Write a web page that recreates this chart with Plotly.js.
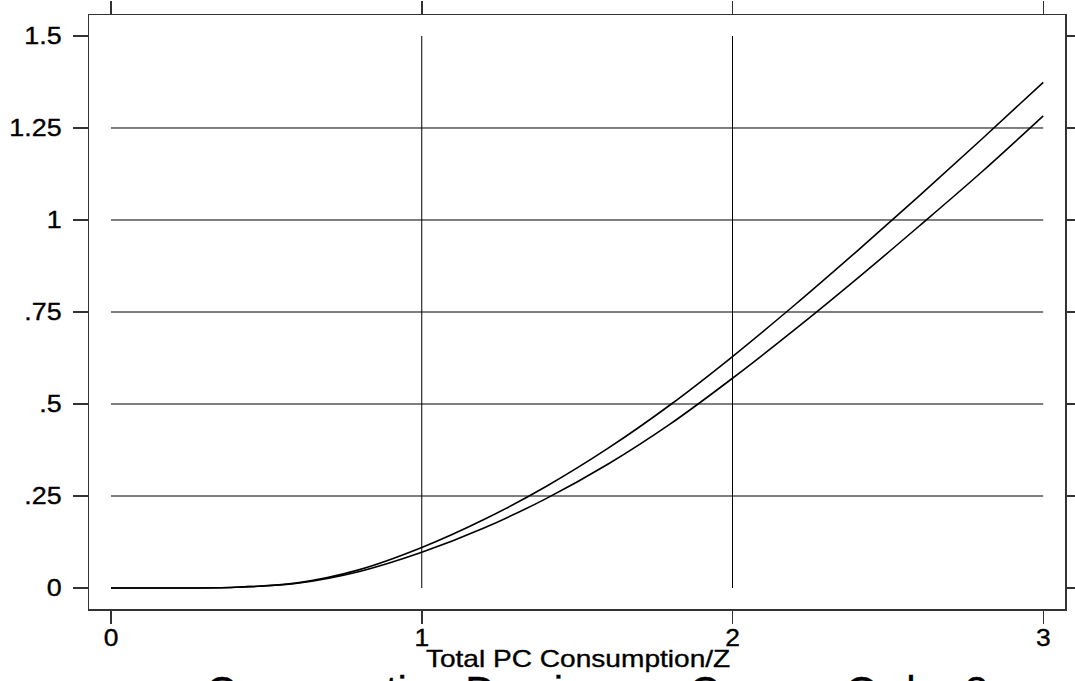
<!DOCTYPE html>
<html>
<head>
<meta charset="utf-8">
<script src="https://cdn.plot.ly/plotly-3.0.1.min.js"></script>
<style>
html,body{margin:0;padding:0;background:#fff;}
#chart{width:1075px;height:681px;}
#chart .xtick text, #chart .ytick text, #chart .annotation-text{stroke:#000;stroke-width:0.35px;}
</style>
</head>
<body>
<div id="chart"></div>
<script>
// ---- data ----
var xVals = [0, 0.2, 0.4, 0.6, 0.8, 1.0, 1.2, 1.4, 1.6, 1.8, 2.0, 2.2, 2.4, 2.6, 2.8, 3.0];
var curveUpper = [0, 0, 0.002, 0.014, 0.05, 0.11, 0.186, 0.276, 0.38, 0.498, 0.629, 0.769, 0.915, 1.065, 1.218, 1.374];
var curveLower = [0, 0, 0.002, 0.013, 0.045, 0.097, 0.163, 0.243, 0.337, 0.446, 0.570, 0.702, 0.840, 0.983, 1.129, 1.283];
var xTicks = [0, 1, 2, 3];
var xTickLabels = ['0', '1', '2', '3'];
var yTicks = [0, 0.25, 0.5, 0.75, 1, 1.25, 1.5];
var yTickLabels = ['0', '.25', '.5', '.75', '1', '1.25', '1.5'];
var xGrid = [1, 2];
var yGrid = [0.25, 0.5, 0.75, 1, 1.25];
var xTitle = 'Total PC Consumption/Z';
var bottomTitle = 'Consumption Dominance Curves  Order 2';

var FONT = 'Liberation Sans, Arial, sans-serif';

var shapes = [];
xGrid.forEach(function (g) {
  shapes.push({type: 'line', xref: 'x', yref: 'y', x0: g, x1: g,
    y0: yTicks[0], y1: yTicks[yTicks.length - 1],
    line: {color: '#000', width: 1}, layer: 'below'});
});
yGrid.forEach(function (g) {
  shapes.push({type: 'line', xref: 'x', yref: 'y', y0: g, y1: g,
    x0: xTicks[0], x1: xTicks[xTicks.length - 1],
    line: {color: '#000', width: 1}, layer: 'below'});
});

var traces = [
  {x: xVals, y: curveUpper, type: 'scatter', mode: 'lines',
   line: {color: '#000', width: 1.6, shape: 'spline', smoothing: 1}, hoverinfo: 'skip'},
  {x: xVals, y: curveLower, type: 'scatter', mode: 'lines',
   line: {color: '#000', width: 1.6, shape: 'spline', smoothing: 1}, hoverinfo: 'skip'}
];

var layout = {
  width: 1075, height: 681,
  margin: {l: 89, r: 10, t: 15, b: 72, pad: 0},
  paper_bgcolor: '#fff', plot_bgcolor: '#fff',
  showlegend: false,
  font: {family: FONT, color: '#000'},
  xaxis: {
    range: [-0.0708, 3.070], tickmode: 'array', tickvals: xTicks, ticktext: xTickLabels,
    showgrid: false, zeroline: false, showline: true, linecolor: '#333', linewidth: 1.5,
    mirror: 'ticks', ticks: 'outside', ticklen: 13, tickcolor: '#333', tickwidth: 1.5,
    tickfont: {family: FONT, size: 24, color: '#000'}, ticklabelstandoff: -6, fixedrange: true
  },
  yaxis: {
    range: [-0.057, 1.557], tickmode: 'array', tickvals: yTicks, ticktext: yTickLabels,
    showgrid: false, zeroline: false, showline: true, linecolor: '#333', linewidth: 1.5,
    mirror: 'ticks', ticks: 'outside', ticklen: 15, tickcolor: '#333', tickwidth: 1.2,
    tickfont: {family: FONT, size: 24, color: '#000'}, ticklabelstandoff: 6, fixedrange: true
  },
  shapes: shapes,
  annotations: [
    {text: xTitle, xref: 'paper', yref: 'paper', x: 0.501, y: -0.058, xanchor: 'center', yanchor: 'top',
     showarrow: false, font: {family: FONT, size: 24, color: '#000'}},
    {text: bottomTitle, xref: 'paper', yref: 'paper', x: 0.52, y: -0.096, xanchor: 'center', yanchor: 'top',
     showarrow: false, font: {family: FONT, size: 42, color: '#000'}}
  ]
};

function stretch(sel, k) {
  document.querySelectorAll(sel).forEach(function (el) {
    var len = el.getComputedTextLength();
    if (len > 0) {
      el.setAttribute('textLength', (len * k).toFixed(2));
      el.setAttribute('lengthAdjust', 'spacingAndGlyphs');
    }
  });
}

Plotly.newPlot('chart', traces, layout, {staticPlot: true, displayModeBar: false}).then(function () {
  stretch('.ytick text', 1.12);
  stretch('.xtick text', 1.1);
  stretch('.annotation[data-index="0"] .annotation-text', 1.17);
});
</script>
</body>
</html>
